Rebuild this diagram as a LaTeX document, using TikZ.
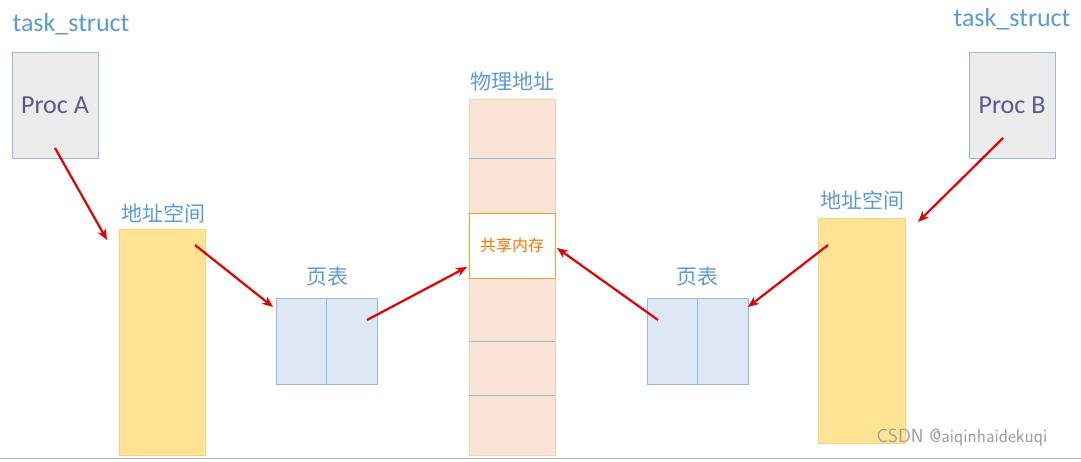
\documentclass[tikz,border=0pt]{standalone}
\usepackage{fontspec}
\usetikzlibrary{arrows.meta}
\setmainfont{Carlito}
\newfontfamily\cjk{Noto Sans CJK SC}
\definecolor{lblue}{RGB}{91,155,213}
\definecolor{pfill}{RGB}{221,232,244}
\definecolor{pline}{RGB}{150,185,220}
\definecolor{yfill}{RGB}{255,228,150}
\definecolor{cfill}{RGB}{250,228,214}
\begin{document}
\begin{tikzpicture}[x=1pt,y=-1pt,
  lbl/.style={text=lblue, font=\fontsize{26}{30}\selectfont},
  clbl/.style={text=lblue, font=\cjk\fontsize{21}{24}\selectfont},
  proc/.style={draw=pline, fill=gray!15, text=blue!35!black!65, font=\fontsize{26}{30}\selectfont},
  ybox/.style={draw=yfill!80!orange, fill=yfill},
  pbox/.style={draw=pline, fill=pfill},
  arr/.style={draw=red!90!black, line width=2.2pt, -{Stealth[length=11pt,width=9pt]}}]
\useasboundingbox (0,0) rectangle (1081,461);
\fill[white] (0,0) rectangle (1081,461);
\draw[gray!60] (0,458) -- (1081,458);
\node[lbl] (ts1) at (71,24) {task\_struct};
\node[lbl] (ts2) at (1012,19) {task\_struct};
\node[proc, minimum width=86pt, minimum height=106pt] (pa) at (55,105) {Proc A};
\node[proc, minimum width=86pt, minimum height=106pt] (pb) at (1012,105) {Proc B};
\node[clbl] (l1) at (163,213) {地址空间};
\node[clbl] (l2) at (862,200) {地址空间};
\node[ybox, minimum width=86pt, minimum height=226pt] (ya) at (162,342) {};
\node[ybox, minimum width=87pt, minimum height=225pt] (yb) at (861.5,330.5) {};
\node[clbl] (t1) at (327,277) {页表};
\node[clbl] (t2) at (697,277) {页表};
\node[pbox, minimum width=101pt, minimum height=86pt] (pa1) at (326.5,341) {};
\draw[pline] (326,298) -- (326,384);
\node[pbox, minimum width=101pt, minimum height=86pt] (pa2) at (697.5,341) {};
\draw[pline] (697,298) -- (697,384);
\node[clbl] (pm) at (512,82) {物理地址};
\node[draw=cfill!80!orange, fill=cfill, minimum width=86pt, minimum height=356pt] (col) at (512,277) {};
\foreach \yy in {158,341,395} \draw[pline] (469,\yy) -- (555,\yy);
\node[draw=orange!80, fill=white, minimum width=86pt, minimum height=65pt, text=orange!90!red, font=\cjk\fontsize{16}{18}\selectfont] (sh) at (512,245.5) {共享内存};
\coordinate (a1s) at (55,148); \coordinate (a1e) at (107,240);
\coordinate (a2s) at (195,245); \coordinate (a2e) at (273,307);
\coordinate (a3s) at (367,320); \coordinate (a3e) at (467,267);
\coordinate (a4s) at (1003,138); \coordinate (a4e) at (918,222);
\coordinate (a5s) at (828,245); \coordinate (a5e) at (748,307);
\coordinate (a6s) at (658,320); \coordinate (a6e) at (557,248);
\foreach \i in {1,...,6} \draw[arr] (a\i s) -- (a\i e);
\node[text=gray!75, font=\fontsize{19}{22}\selectfont\sffamily] (wm) at (962,438) {CSDN @aiqinhaidekuqi};
\end{tikzpicture}
\end{document}
